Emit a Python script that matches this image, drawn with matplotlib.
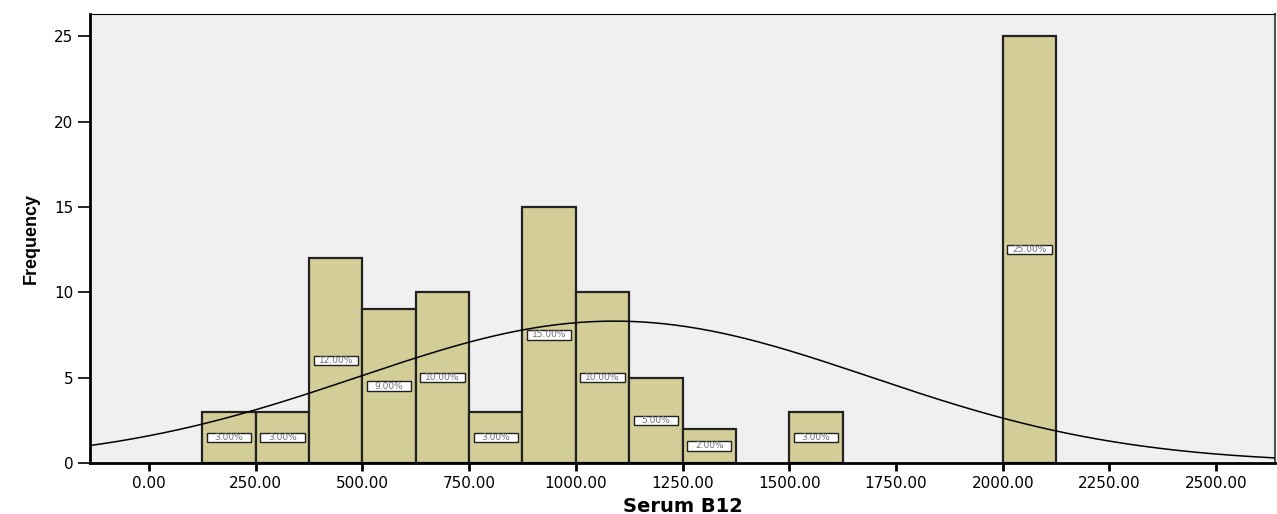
import numpy as np
import matplotlib.pyplot as plt
from matplotlib.patches import Rectangle

# Serum B12 histogram, bin width 125
bin_left = [125, 250, 375, 500, 625, 750, 875, 1000, 1125, 1250, 1500, 2000]
counts = [3, 3, 12, 9, 10, 3, 15, 10, 5, 2, 3, 25]
bin_width = 125
n_total = 100
mean_b12 = 1090
sd_b12 = 600

plt.rcParams['font.family'] = ['DejaVu Sans']

fig = plt.figure(figsize=(12.77, 5.14), dpi=100)
ax = fig.add_axes([0.0705, 0.0992, 0.928, 0.8735])
ax.set_facecolor('#f0f0f0')

ax.bar(bin_left, counts, width=bin_width, align='edge', color='#d3ce97',
       edgecolor='#222222', linewidth=1.6, zorder=2)

# percentage labels in small framed boxes at half bar height
for left, c in zip(bin_left, counts):
    pct = 100.0 * c / n_total
    cx = left + bin_width / 2
    ax.add_patch(Rectangle((cx - 52, c / 2 - 0.28), 104, 0.56, facecolor='white',
                           edgecolor='#222222', linewidth=1.0, zorder=4))
    ax.text(cx, c / 2, f'{pct:.2f}%', ha='center', va='center',
            fontsize=6.5, color='#707070', zorder=5)

# fitted normal curve
xs = np.linspace(-140, 2640, 400)
ys = n_total * bin_width * np.exp(-0.5 * ((xs - mean_b12) / sd_b12) ** 2) / (sd_b12 * np.sqrt(2 * np.pi))
ax.plot(xs, ys, color='black', linewidth=1.1, zorder=3)

ax.set_xlim(-138, 2638)
ax.set_ylim(0, 26.3)
xt = np.arange(0, 2501, 250)
ax.set_xticks(xt)
ax.set_xticklabels([f'{v:.2f}' for v in xt], fontsize=11)
ax.set_yticks([0, 5, 10, 15, 20, 25])
ax.set_yticklabels(['0', '5', '10', '15', '20', '25'], fontsize=11)
ax.tick_params(axis='y', length=9, width=1.2, direction='out', pad=3)
ax.tick_params(axis='x', length=6, width=2, direction='out', pad=3)

for side in ['left', 'bottom']:
    ax.spines[side].set_linewidth(2)
ax.spines['top'].set_linewidth(0.8)
ax.spines['right'].set_linewidth(1.5)
ax.spines['right'].set_color('#555555')

ax.set_xlabel('Serum B12', fontsize=14, fontweight='bold', labelpad=5)
ax.set_ylabel('Frequency', fontsize=13, fontweight='bold', labelpad=10,
              family=['Liberation Sans Narrow', 'Liberation Sans'])

fig.savefig('out.png', dpi=100)
